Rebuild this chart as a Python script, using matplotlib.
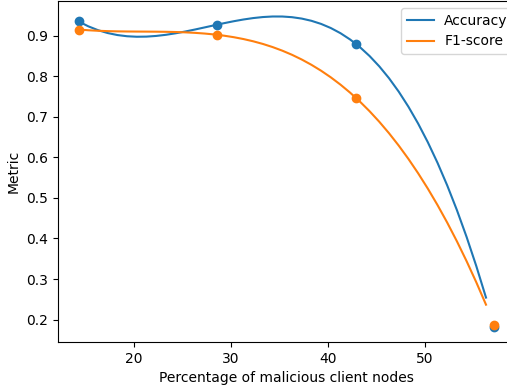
import numpy as np
import matplotlib.pyplot as plt

# share of malicious client nodes (1..4 of 7 clients), in percent
pct_malicious = [100 / 7, 200 / 7, 300 / 7, 400 / 7]
accuracy = [0.935, 0.927, 0.880, 0.183]
f1_score = [0.915, 0.902, 0.747, 0.187]

fig = plt.figure(figsize=(5.07, 3.87), dpi=100)
ax = fig.add_axes([57.8 / 507, 1 - 342 / 387, 457.3 / 507, (342 - 1) / 387])

x = np.array(pct_malicious)
xs = np.arange(x.min(), x.max(), 1.0)

# cubic fit through the measured points
for vals, name, col in [(accuracy, 'Accuracy', 'C0'), (f1_score, 'F1-score', 'C1')]:
    coef = np.polyfit(x, vals, 3)
    ax.plot(xs, np.polyval(coef, xs), color=col, label=name)
    ax.scatter(x, vals, color=col)

ax.set_xlabel('Percentage of malicious client nodes')
ax.set_ylabel('Metric')
ax.legend(loc='upper left', bbox_to_anchor=(0.7355, 1.0), handletextpad=0.7)

fig.savefig('out.png', dpi=100)
